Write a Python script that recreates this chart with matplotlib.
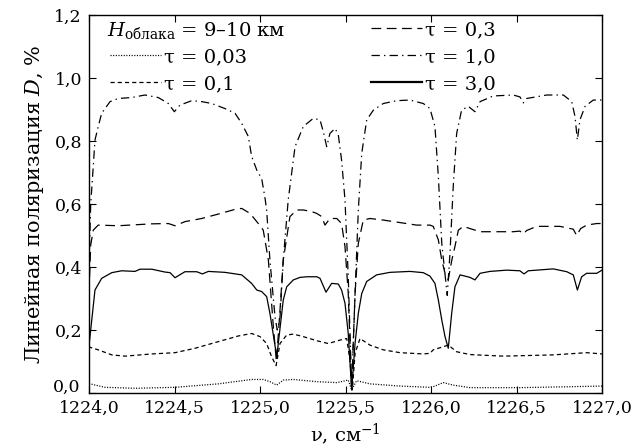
import matplotlib
matplotlib.use("Agg")
import matplotlib.pyplot as plt
from matplotlib.lines import Line2D
from matplotlib.ticker import FuncFormatter, MultipleLocator

plt.rcParams['font.family'] = ['DejaVu Serif']
plt.rcParams['mathtext.fontset'] = 'dejavuserif'
plt.rcParams['lines.scale_dashes'] = False

# tau = 3.0 (solid)
nu_30 = [1224.000, 1224.035, 1224.074, 1224.133, 1224.191, 1224.269, 1224.298, 1224.367,
         1224.444, 1224.474, 1224.503, 1224.561, 1224.630, 1224.663, 1224.698, 1224.795,
         1224.893, 1224.951, 1224.981, 1225.010, 1225.039, 1225.058, 1225.098, 1225.136,
         1225.156, 1225.195, 1225.234, 1225.273, 1225.332, 1225.351, 1225.386, 1225.419,
         1225.458, 1225.477, 1225.497, 1225.516, 1225.536, 1225.556, 1225.575, 1225.595,
         1225.624, 1225.682, 1225.760, 1225.877, 1225.955, 1225.994, 1226.023, 1226.043,
         1226.063, 1226.082, 1226.101, 1226.121, 1226.140, 1226.170, 1226.199, 1226.228,
         1226.257, 1226.287, 1226.345, 1226.443, 1226.520, 1226.544, 1226.569, 1226.715,
         1226.794, 1226.832, 1226.856, 1226.881, 1226.910, 1226.969, 1227.000]
d_30 = [0.150, 0.327, 0.364, 0.382, 0.388, 0.386, 0.393, 0.393,
        0.384, 0.382, 0.366, 0.385, 0.385, 0.378, 0.386, 0.383,
        0.375, 0.348, 0.327, 0.322, 0.306, 0.253, 0.115, 0.295,
        0.337, 0.359, 0.367, 0.369, 0.369, 0.364, 0.320, 0.348,
        0.346, 0.327, 0.285, 0.189, 0.010, 0.158, 0.253, 0.316,
        0.354, 0.375, 0.383, 0.386, 0.382, 0.371, 0.348, 0.295,
        0.232, 0.179, 0.142, 0.253, 0.337, 0.375, 0.371, 0.367,
        0.359, 0.380, 0.386, 0.390, 0.388, 0.378, 0.388, 0.394,
        0.385, 0.375, 0.327, 0.369, 0.380, 0.380, 0.390]

# tau = 1.0 (dash-dot)
nu_10 = [1224.000, 1224.010, 1224.025, 1224.035, 1224.054, 1224.074, 1224.123, 1224.171,
         1224.250, 1224.327, 1224.405, 1224.464, 1224.499, 1224.532, 1224.601, 1224.659,
         1224.718, 1224.795, 1224.854, 1224.893, 1224.932, 1224.951, 1224.981, 1225.010,
         1225.029, 1225.039, 1225.058, 1225.088, 1225.101, 1225.117, 1225.136, 1225.165,
         1225.205, 1225.253, 1225.312, 1225.351, 1225.370, 1225.390, 1225.409, 1225.439,
         1225.458, 1225.477, 1225.497, 1225.516, 1225.536, 1225.556, 1225.575, 1225.595,
         1225.624, 1225.663, 1225.721, 1225.799, 1225.877, 1225.955, 1225.994, 1226.023,
         1226.043, 1226.063, 1226.095, 1226.111, 1226.130, 1226.150, 1226.179, 1226.218,
         1226.257, 1226.287, 1226.364, 1226.481, 1226.520, 1226.540, 1226.560, 1226.677,
         1226.774, 1226.823, 1226.842, 1226.856, 1226.871, 1226.901, 1226.949, 1227.000]
d_10 = [0.400, 0.600, 0.720, 0.803, 0.846, 0.888, 0.925, 0.935,
        0.938, 0.946, 0.938, 0.919, 0.893, 0.914, 0.928, 0.925,
        0.919, 0.903, 0.888, 0.856, 0.814, 0.751, 0.708, 0.680,
        0.620, 0.580, 0.422, 0.240, 0.200, 0.240, 0.422, 0.613,
        0.782, 0.846, 0.872, 0.867, 0.830, 0.782, 0.824, 0.840,
        0.819, 0.740, 0.613, 0.370, 0.020, 0.317, 0.581, 0.761,
        0.867, 0.898, 0.919, 0.928, 0.930, 0.919, 0.903, 0.846,
        0.687, 0.475, 0.310, 0.444, 0.655, 0.824, 0.898, 0.910,
        0.893, 0.925, 0.943, 0.946, 0.940, 0.921, 0.935, 0.946,
        0.946, 0.925, 0.878, 0.803, 0.867, 0.910, 0.930, 0.930]

# tau = 0.3 (dashed)
nu_03 = [1224.000, 1224.010, 1224.025, 1224.054, 1224.171, 1224.367, 1224.464, 1224.503,
         1224.561, 1224.659, 1224.756, 1224.854, 1224.893, 1224.942, 1224.990, 1225.019,
         1225.049, 1225.078, 1225.096, 1225.117, 1225.136, 1225.175, 1225.215, 1225.253,
         1225.302, 1225.332, 1225.361, 1225.380, 1225.409, 1225.449, 1225.477, 1225.497,
         1225.516, 1225.536, 1225.556, 1225.575, 1225.604, 1225.643, 1225.721, 1225.819,
         1225.916, 1225.994, 1226.013, 1226.043, 1226.063, 1226.082, 1226.101, 1226.121,
         1226.140, 1226.160, 1226.189, 1226.228, 1226.287, 1226.384, 1226.481, 1226.520,
         1226.540, 1226.560, 1226.618, 1226.754, 1226.832, 1226.852, 1226.875, 1226.910,
         1226.969, 1227.000]
d_03 = [0.320, 0.470, 0.517, 0.533, 0.531, 0.537, 0.538, 0.531,
        0.544, 0.554, 0.568, 0.583, 0.586, 0.570, 0.538, 0.517,
        0.422, 0.210, 0.100, 0.263, 0.422, 0.560, 0.581, 0.581,
        0.576, 0.570, 0.560, 0.533, 0.554, 0.554, 0.538, 0.465,
        0.317, 0.010, 0.317, 0.475, 0.549, 0.554, 0.549, 0.541,
        0.533, 0.533, 0.529, 0.486, 0.422, 0.380, 0.360, 0.420,
        0.465, 0.517, 0.529, 0.522, 0.512, 0.512, 0.512, 0.514,
        0.505, 0.516, 0.529, 0.529, 0.520, 0.500, 0.522, 0.533,
        0.538, 0.538]

# tau = 0.1 (short dash)
nu_01 = [1224.000, 1224.006, 1224.054, 1224.133, 1224.211, 1224.367, 1224.503, 1224.620,
         1224.756, 1224.873, 1224.932, 1224.951, 1225.000, 1225.039, 1225.068, 1225.094,
         1225.117, 1225.156, 1225.195, 1225.253, 1225.332, 1225.399, 1225.468, 1225.507,
         1225.526, 1225.540, 1225.556, 1225.585, 1225.643, 1225.721, 1225.819, 1225.955,
         1225.994, 1226.013, 1226.072, 1226.101, 1226.150, 1226.228, 1226.423, 1226.715,
         1226.910, 1227.000]
d_01 = [0.150, 0.145, 0.137, 0.121, 0.117, 0.124, 0.128, 0.142,
        0.163, 0.181, 0.187, 0.189, 0.179, 0.157, 0.115, 0.087,
        0.157, 0.184, 0.187, 0.179, 0.166, 0.157, 0.168, 0.173,
        0.105, 0.010, 0.126, 0.173, 0.152, 0.137, 0.128, 0.124,
        0.126, 0.137, 0.147, 0.152, 0.131, 0.122, 0.117, 0.121,
        0.128, 0.124]

# tau = 0.03 (dotted)
nu_003 = [1224.000, 1224.006, 1224.094, 1224.269, 1224.503, 1224.756, 1224.951, 1225.019,
          1225.058, 1225.098, 1225.136, 1225.195, 1225.332, 1225.449, 1225.516, 1225.536,
          1225.565, 1225.643, 1225.819, 1225.994, 1226.013, 1226.072, 1226.130, 1226.228,
          1226.520, 1226.813, 1227.000]
d_003 = [0.030, 0.029, 0.018, 0.015, 0.018, 0.029, 0.043, 0.043,
         0.036, 0.025, 0.041, 0.043, 0.036, 0.033, 0.041, 0.010,
         0.039, 0.029, 0.022, 0.018, 0.020, 0.033, 0.025, 0.017,
         0.017, 0.020, 0.022]

styles = {
    '003': dict(linestyle=(0, (0.8, 1.1)), lw=0.9),
    '01': dict(linestyle=(0, (3.0, 2.2)), lw=0.9),
    '03': dict(linestyle=(0, (7.0, 4.0)), lw=0.9),
    '10': dict(linestyle=(0, (6.0, 3.0, 1.0, 3.0)), lw=0.9),
    '30': dict(linestyle='-', lw=0.9),
}

fig = plt.figure(figsize=(6.31, 4.47), dpi=100)
ax = fig.add_axes([89 / 631, 54 / 447, 513 / 631, 378 / 447])

ax.plot(nu_003, d_003, color='black', **styles['003'])
ax.plot(nu_01, d_01, color='black', **styles['01'])
ax.plot(nu_03, d_03, color='black', **styles['03'])
ax.plot(nu_10, d_10, color='black', **styles['10'])
ax.plot(nu_30, d_30, color='black', **styles['30'])

ax.set_xlim(1224.0, 1227.0)
ax.set_ylim(0.0, 1.2)
ax.xaxis.set_major_locator(MultipleLocator(0.5))
ax.yaxis.set_major_locator(MultipleLocator(0.2))
comma = FuncFormatter(lambda v, p: f"{v:.1f}".replace('.', ','))
# the 0,0 label is drawn separately, a little above its tick
ycomma = FuncFormatter(lambda v, p: "" if abs(v) < 1e-9 else f"{v:.1f}".replace('.', ','))
ax.xaxis.set_major_formatter(comma)
ax.yaxis.set_major_formatter(ycomma)
ax.tick_params(direction='in', length=5, width=0.8, top=True, right=True,
               labelsize=12.5)
ax.tick_params(axis='x', pad=5)
ax.tick_params(axis='y', pad=5)
for s in ax.spines.values():
    s.set_linewidth(1.0)

ax.annotate("0,0", xy=(0, 0), xycoords=('axes fraction', 'data'),
            xytext=(-6, 4), textcoords='offset points', ha='right', va='center',
            fontsize=12.5)

ax.set_xlabel("ν, см$^{-1}$", fontsize=14, labelpad=3)
ax.set_ylabel("Линейная поляризация $D$, %", fontsize=15, labelpad=6)

# legend
handles = [Line2D([], [], color='none'),
           Line2D([], [], color='black', **styles['003']),
           Line2D([], [], color='black', **styles['01']),
           Line2D([], [], color='black', **styles['03']),
           Line2D([], [], color='black', **styles['10']),
           Line2D([], [], color='black', lw=1.6)]
labels = [" ", "τ = 0,03", "τ = 0,1", "τ = 0,3", "τ = 1,0", "τ = 3,0"]
ax.legend(handles, labels, ncol=2, loc='upper left', frameon=False, fontsize=14,
          handlelength=2.6, handletextpad=0.15, columnspacing=6.4,
          labelspacing=0.46, borderpad=0, borderaxespad=0,
          bbox_to_anchor=(0.041, 0.984))
ax.text(0.035, 0.960, "$H_{\\mathregular{облака}}$ = 9–10 км", transform=ax.transAxes,
        fontsize=14, va='center', ha='left')

fig.savefig("out.png", dpi=100)
